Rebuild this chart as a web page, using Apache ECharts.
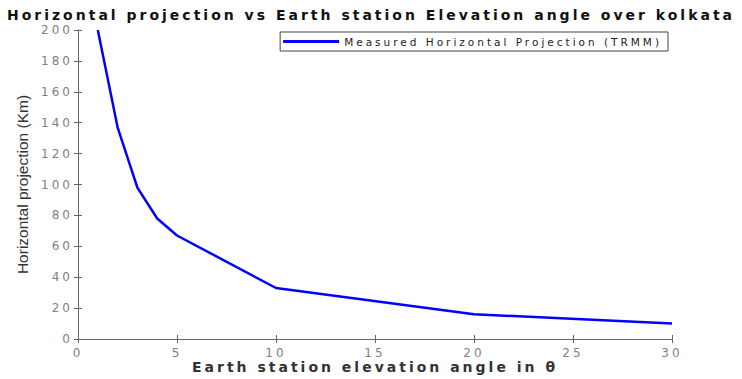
<!DOCTYPE html>
<html>
<head>
<meta charset="utf-8">
<script src="https://cdn.jsdelivr.net/npm/echarts@6/dist/echarts.min.js"></script>
<style>
  html, body { margin: 0; padding: 0; background: #fff; }
  #chart { width: 742px; height: 379px; }
  /* the reference is a horizontally stretched export, so the flat texts look spaced out */
  #chart svg text { letter-spacing: 3px; }
  #chart svg text[style*="Liberation"] { letter-spacing: 0; }
</style>
</head>
<body>
<div id="chart"></div>
<script>
// elevation angle (deg) and measured horizontal projection (km)
var angles = [1, 2, 3, 4, 5, 10, 20, 30];
var projection = [200, 137, 98, 78, 67, 33, 16, 10];
var seriesName = 'Measured Horizontal Projection (TRMM)';

var points = angles.map(function (a, i) { return [a, projection[i]]; });

var chart = echarts.init(document.getElementById('chart'), null, { renderer: 'svg' });
var axisGray = '#666';
var labelGray = '#808080';

chart.setOption({
  animation: false,
  title: {
    text: 'Horizontal projection vs Earth station Elevation angle over kolkata',
    left: 'center',
    top: 7,
    padding: 0,
    textStyle: { fontFamily: 'DejaVu Sans', fontWeight: 'bold', fontSize: 14, lineHeight: 15, color: '#111' }
  },
  legend: {
    data: [seriesName],
    right: 74,
    top: 32,
    icon: 'rect',
    backgroundColor: '#fff',
    borderColor: '#444',
    borderWidth: 1,
    borderRadius: 0,
    padding: [4, 117, 4, 3],
    itemWidth: 56,
    itemHeight: 3,
    textStyle: { fontFamily: 'DejaVu Sans', fontSize: 10.5, color: '#222' }
  },
  grid: { left: 78, right: 70, top: 30, bottom: 40, show: false, outerBoundsMode: 'none', containLabel: false },
  xAxis: [{
    type: 'value',
    min: 0, max: 30, interval: 5,
    name: 'Earth station elevation angle in θ',
    nameLocation: 'middle',
    nameGap: 21,
    nameMoveOverlap: false,
    nameTextStyle: { fontFamily: 'DejaVu Sans', fontWeight: 'bold', fontSize: 14, color: '#333' },
    axisLine: { show: true, lineStyle: { color: axisGray, width: 1 } },
    axisTick: { show: true, inside: true, length: 4, lineStyle: { color: axisGray } },
    axisLabel: { fontFamily: 'DejaVu Sans', fontSize: 12, color: labelGray, margin: 8 },
    splitLine: { show: false }
  }, {
    type: 'value',
    position: 'top',
    min: 0, max: 30, interval: 5,
    axisLine: { show: true, lineStyle: { color: axisGray, width: 1 } },
    axisTick: { show: true, inside: true, length: 4, lineStyle: { color: axisGray } },
    axisLabel: { show: false },
    splitLine: { show: false }
  }],
  yAxis: [{
    type: 'value',
    min: 0, max: 200, interval: 20,
    name: 'Horizontal projection (Km)',
    nameLocation: 'middle',
    nameGap: 48,
    nameTextStyle: { fontFamily: 'Liberation Sans', fontSize: 15.5, color: '#333' },
    axisLine: { show: true, lineStyle: { color: axisGray, width: 1 } },
    axisTick: { show: true, inside: true, length: 4, lineStyle: { color: axisGray } },
    axisLabel: { fontFamily: 'DejaVu Sans', fontSize: 12, color: labelGray, margin: 5 },
    splitLine: { show: false }
  }, {
    type: 'value',
    position: 'right',
    min: 0, max: 200, interval: 20,
    axisLine: { show: true, lineStyle: { color: axisGray, width: 1 } },
    axisTick: { show: true, inside: true, length: 4, lineStyle: { color: axisGray } },
    axisLabel: { show: false },
    splitLine: { show: false }
  }],
  series: [{
    name: seriesName,
    type: 'line',
    data: points,
    showSymbol: false,
    symbol: 'none',
    clip: true,
    lineStyle: { color: '#0000ff', width: 2.5 },
    itemStyle: { color: '#0000ff' }
  }]
});
</script>
</body>
</html>
